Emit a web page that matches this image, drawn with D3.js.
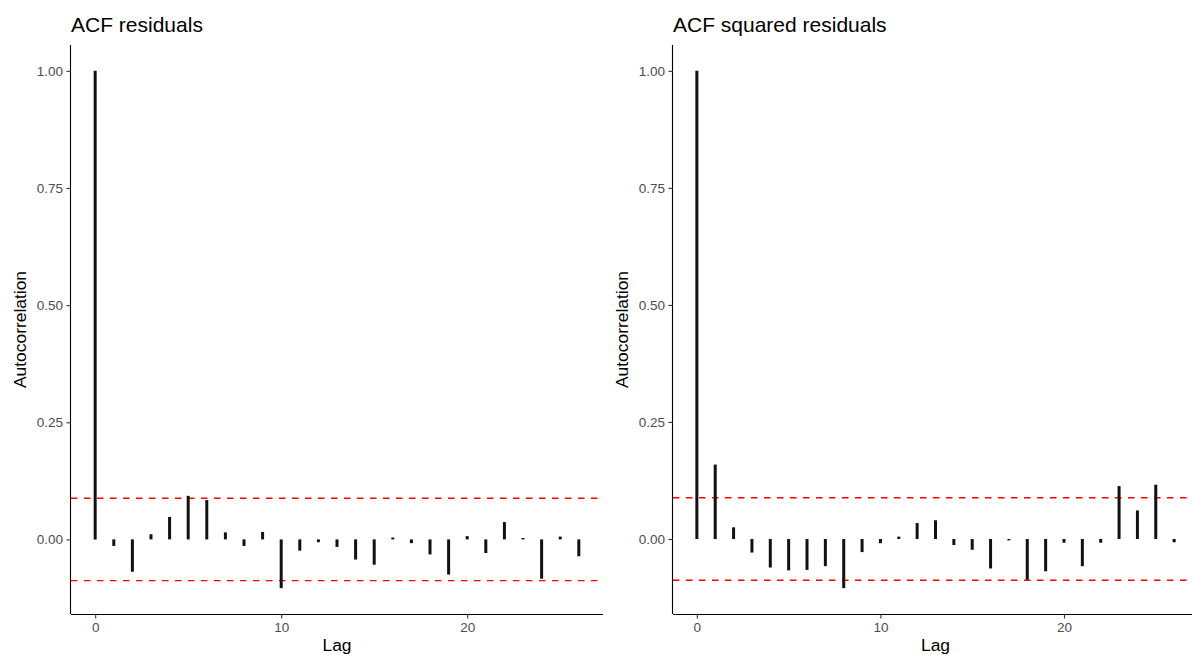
<!DOCTYPE html>
<html>
<head>
<meta charset="utf-8">
<script src="https://cdn.jsdelivr.net/npm/d3@7"></script>
<style>
  html, body { margin: 0; padding: 0; background: #fff; }
  svg { display: block; font-family: "Liberation Sans", Arial, sans-serif; }
</style>
</head>
<body>
<svg id="chart" width="1192" height="655"></svg>
<script>
// Lags shared by both correlograms
const lags = d3.range(0, 27);

// Autocorrelation of the residuals
const acfResiduals = [
  1.000, -0.014, -0.069, 0.011, 0.048, 0.093, 0.084, 0.015, -0.014, 0.016,
  -0.104, -0.024, -0.006, -0.016, -0.043, -0.054, 0.004, -0.008, -0.032, -0.075,
  0.007, -0.029, 0.037, 0.003, -0.084, 0.006, -0.036
];

// Autocorrelation of the squared residuals
const acfSquared = [
  1.000, 0.159, 0.025, -0.029, -0.061, -0.067, -0.066, -0.058, -0.105, -0.028,
  -0.009, 0.005, 0.034, 0.040, -0.013, -0.023, -0.063, -0.003, -0.087, -0.069,
  -0.008, -0.058, -0.008, 0.113, 0.061, 0.116, -0.007
];

// Approximate 95% bounds
const confBound = [0.088, -0.088];

const yTicks = [0, 0.25, 0.5, 0.75, 1];
const xTicks = [0, 10, 20];

const panels = [
  { title: "ACF residuals", values: acfResiduals, left: 71, right: 603, yLabelX: 20 },
  { title: "ACF squared residuals", values: acfSquared, left: 673, right: 1198, yLabelX: 622 }
];

const svg = d3.select("#chart");
const plotTop = 45, plotBottom = 614;

panels.forEach(p => {
  const g = svg.append("g");

  // continuous scales with 5% expansion on each side
  const xr = [0, 26];
  const xPad = (xr[1] - xr[0]) * 0.05;
  const x = d3.scaleLinear().domain([xr[0] - xPad, xr[1] + xPad]).range([p.left, p.right]);

  const all = p.values.concat(confBound);
  const ymin = d3.min(all), ymax = d3.max(all);
  const yPad = (ymax - ymin) * 0.05;
  const y = d3.scaleLinear().domain([ymin - yPad, ymax + yPad]).range([plotBottom, plotTop]);

  // confidence bounds
  g.selectAll("line.conf").data(confBound).enter().append("line")
    .attr("class", "conf")
    .attr("x1", p.left).attr("x2", p.right)
    .attr("y1", d => y(d)).attr("y2", d => y(d))
    .attr("stroke", "#ff0000").attr("stroke-width", 1.4)
    .attr("stroke-dasharray", "6.5,6.5");

  // lag spikes
  g.selectAll("line.spike").data(lags).enter().append("line")
    .attr("class", "spike")
    .attr("x1", d => x(d)).attr("x2", d => x(d))
    .attr("y1", y(0)).attr("y2", d => y(p.values[d]))
    .attr("stroke", "#111111").attr("stroke-width", 3);

  // axes
  const xAxis = d3.axisBottom(x).tickValues(xTicks).tickSize(4.5).tickPadding(3.5)
    .tickFormat(d3.format("d"));
  const gx = g.append("g").attr("transform", `translate(0,${plotBottom})`).call(xAxis);
  gx.select(".domain").attr("d", `M${p.left},0.5H${p.right}`);

  const yAxis = d3.axisLeft(y).tickValues(yTicks).tickSize(4.5).tickPadding(3.5)
    .tickFormat(d3.format(".2f"));
  const gy = g.append("g").attr("transform", `translate(${p.left},0)`).call(yAxis);
  gy.select(".domain").attr("d", `M-0.5,${plotTop}V${plotBottom}`);

  [gx, gy].forEach(a => {
    a.select(".domain").attr("stroke", "#000").attr("stroke-width", 1.1);
    a.selectAll(".tick line").attr("stroke", "#333").attr("stroke-width", 1.1);
    a.selectAll(".tick text").attr("fill", "#4d4d4d").style("font-size", "13.5px");
  });

  // titles
  g.append("text")
    .attr("x", p.left).attr("y", 32)
    .style("font-size", "21px").attr("fill", "#000")
    .text(p.title);

  g.append("text")
    .attr("x", (p.left + p.right) / 2).attr("y", 651)
    .attr("text-anchor", "middle")
    .style("font-size", "17.4px").attr("fill", "#000")
    .text("Lag");

  g.append("text")
    .attr("transform", `translate(${p.yLabelX + 6},${(plotTop + plotBottom) / 2}) rotate(-90)`)
    .attr("text-anchor", "middle")
    .style("font-size", "17.4px").attr("fill", "#000")
    .text("Autocorrelation");
});
</script>
</body>
</html>
